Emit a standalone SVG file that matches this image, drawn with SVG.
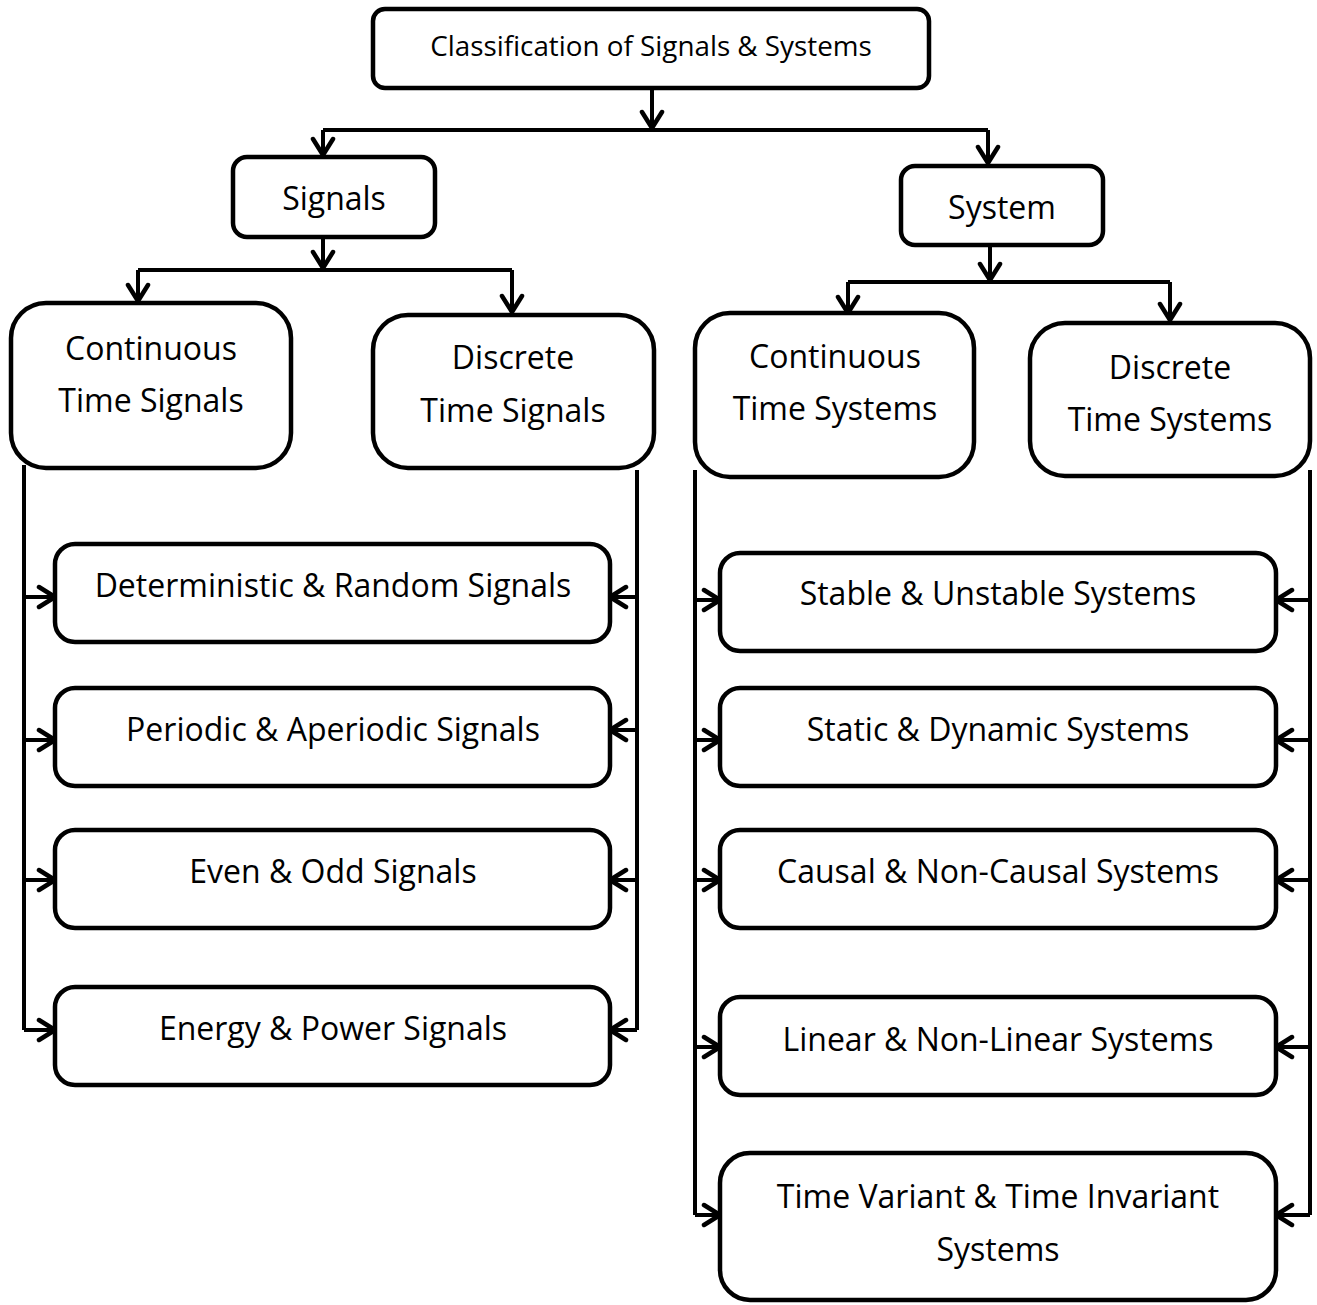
<svg xmlns="http://www.w3.org/2000/svg" width="1317" height="1305" viewBox="0 0 1317 1305">
<style>
.box{fill:#fff;stroke:#000;stroke-width:4.5}
.t{font-family:"Open Sans","Noto Sans",sans-serif;fill:#000;text-anchor:middle;font-size:32px}
.c{fill:none;stroke:#000;stroke-width:4}
.a{fill:none;stroke:#000;stroke-width:4;marker-end:url(#ah)}
</style>
<defs>
<marker id="ah" markerUnits="userSpaceOnUse" viewBox="-20 -13 22 26" refX="0" refY="0" markerWidth="22" markerHeight="26" orient="auto">
<path d="M-16,-10 L0,0 L-16,10" fill="none" stroke="#000" stroke-width="4.5" stroke-linecap="round" stroke-linejoin="round"/>
</marker>
</defs>
<g id="connectors">
<path class="a" d="M652,88 V128"/>
<path class="c" d="M323,130 H988"/>
<path class="a" d="M323,130 V155"/>
<path class="a" d="M988,130 V163"/>
<path class="a" d="M323,237 V268"/>
<path class="c" d="M138,270 H512"/>
<path class="a" d="M138,270 V301"/>
<path class="a" d="M512,270 V312"/>
<path class="a" d="M990,245 V280"/>
<path class="c" d="M848,282 H1170"/>
<path class="a" d="M848,282 V313"/>
<path class="a" d="M1170,282 V320"/>
<path class="c" d="M24,465 V1030"/>
<path class="a" d="M24,597 H55"/>
<path class="a" d="M24,740 H55"/>
<path class="a" d="M24,880 H55"/>
<path class="a" d="M24,1030 H55"/>
<path class="c" d="M637,470 V1030"/>
<path class="a" d="M637,597 H610"/>
<path class="a" d="M637,730 H610"/>
<path class="a" d="M637,880 H610"/>
<path class="a" d="M637,1030 H610"/>
<path class="c" d="M695,470 V1215"/>
<path class="a" d="M695,600 H720"/>
<path class="a" d="M695,740 H720"/>
<path class="a" d="M695,880 H720"/>
<path class="a" d="M695,1047 H720"/>
<path class="a" d="M695,1215 H720"/>
<path class="c" d="M1310,470 V1215"/>
<path class="a" d="M1310,600 H1276"/>
<path class="a" d="M1310,740 H1276"/>
<path class="a" d="M1310,880 H1276"/>
<path class="a" d="M1310,1047 H1276"/>
<path class="a" d="M1310,1215 H1276"/>
</g>
<g id="root"><rect class="box" x="373" y="9" width="556" height="79" rx="12"/><text class="t" x="651" y="56" style="font-size:27.8px">Classification of Signals &amp; Systems</text></g>
<g id="signals"><rect class="box" x="233" y="157" width="202" height="80" rx="14"/><text class="t" x="334" y="210">Signals</text></g>
<g id="system"><rect class="box" x="901" y="166" width="202" height="79" rx="14"/><text class="t" x="1002" y="219">System</text></g>
<g id="cts"><rect class="box" x="11" y="303" width="280" height="165" rx="35"/><text class="t" x="151" y="360">Continuous</text><text class="t" x="151" y="412">Time Signals</text></g>
<g id="dts"><rect class="box" x="373" y="315" width="281" height="153" rx="35"/><text class="t" x="513" y="369">Discrete</text><text class="t" x="513" y="422">Time Signals</text></g>
<g id="ctsys"><rect class="box" x="695" y="313" width="279" height="164" rx="35"/><text class="t" x="835" y="368">Continuous</text><text class="t" x="835" y="420">Time Systems</text></g>
<g id="dtsys"><rect class="box" x="1030" y="323" width="280" height="153" rx="35"/><text class="t" x="1170" y="379">Discrete</text><text class="t" x="1170" y="431">Time Systems</text></g>
<g id="det"><rect class="box" x="55" y="544" width="555" height="98" rx="20"/><text class="t" x="333" y="597">Deterministic &amp; Random Signals</text></g>
<g id="per"><rect class="box" x="55" y="688" width="555" height="98" rx="20"/><text class="t" x="333" y="741">Periodic &amp; Aperiodic Signals</text></g>
<g id="even"><rect class="box" x="55" y="830" width="555" height="98" rx="20"/><text class="t" x="333" y="883">Even &amp; Odd Signals</text></g>
<g id="energy"><rect class="box" x="55" y="987" width="555" height="98" rx="20"/><text class="t" x="333" y="1040">Energy &amp; Power Signals</text></g>
<g id="stable"><rect class="box" x="720" y="553" width="556" height="98" rx="20"/><text class="t" x="998" y="605">Stable &amp; Unstable Systems</text></g>
<g id="static"><rect class="box" x="720" y="688" width="556" height="98" rx="20"/><text class="t" x="998" y="741">Static &amp; Dynamic Systems</text></g>
<g id="causal"><rect class="box" x="720" y="830" width="556" height="98" rx="20"/><text class="t" x="998" y="883">Causal &amp; Non-Causal Systems</text></g>
<g id="linear"><rect class="box" x="720" y="997" width="556" height="98" rx="20"/><text class="t" x="998" y="1051">Linear &amp; Non-Linear Systems</text></g>
<g id="tv"><rect class="box" x="720" y="1153" width="556" height="147" rx="30"/><text class="t" x="998" y="1208">Time Variant &amp; Time Invariant</text><text class="t" x="998" y="1261">Systems</text></g>
</svg>
